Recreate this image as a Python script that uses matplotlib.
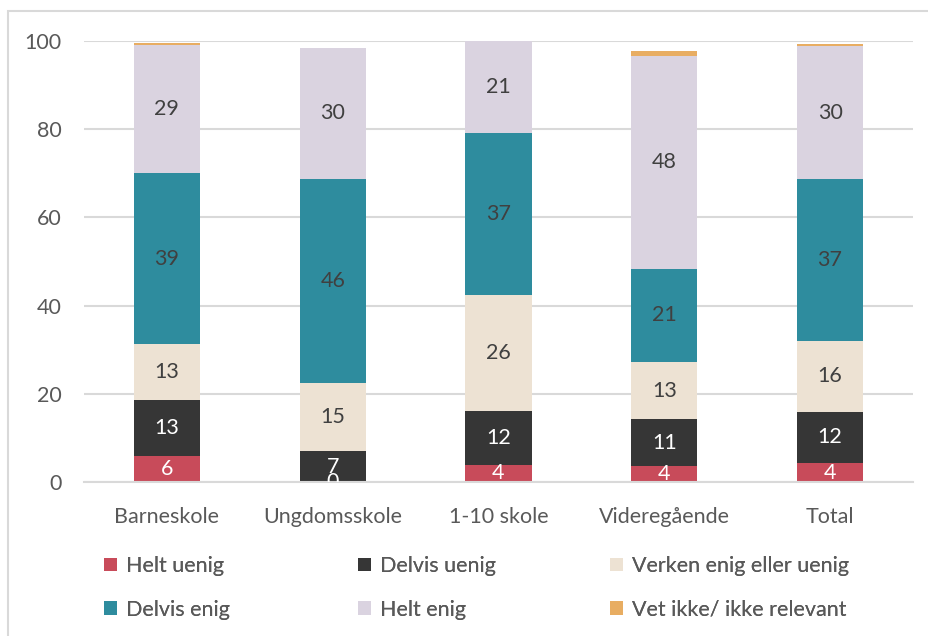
#!/usr/bin/env python3
"""Stacked agreement shares by school level."""

import matplotlib

matplotlib.use("Agg")

import matplotlib.pyplot as plt
from matplotlib import patches
import numpy as np


SCHOOLS = ["Barneskole", "Ungdomsskole", "1-10 skole", "Videregående", "Total"]
ANSWERS = [
    "Helt uenig",
    "Delvis uenig",
    "Verken enig eller uenig",
    "Delvis enig",
    "Helt enig",
    "Vet ikke/ ikke relevant",
]

# Percent per answer, one entry per school level
HELT_UENIG = [5.8, 0.0, 3.9, 3.6, 4.3]
DELVIS_UENIG = [12.9, 7.0, 12.1, 10.6, 11.6]
VERKEN = [12.6, 15.4, 26.3, 13.0, 16.1]
DELVIS_ENIG = [38.7, 46.4, 36.8, 21.2, 36.6]
HELT_ENIG = [29.1, 29.6, 20.9, 48.2, 30.3]
VET_IKKE = [0.5, 0.0, 0.0, 1.1, 0.4]

COLORS = ["#C84B5A", "#363636", "#EDE2D3", "#2E8C9E", "#DAD3E0", "#E8AD62"]
LABEL_COLORS = ["white", "white", "#404040", "#404040", "#404040", None]
TEXT = "#595959"
GRID = "#D9D9D9"
FS = 15.5

plt.rcParams.update({"font.family": ["Lato", "DejaVu Sans"], "font.size": FS})


def main() -> None:
    fig = plt.figure(figsize=(9.29, 6.36), dpi=100)
    fig.patch.set_facecolor("white")
    ax = fig.add_axes([84 / 929, 1 - 482 / 636, 829 / 929, 441 / 636])

    # chart-area frame, open towards the right and bottom edges
    fig.add_artist(
        patches.Rectangle(
            (8 / 929, -0.1), 1.1, 1 - 11 / 636 + 0.1,
            transform=fig.transFigure, fill=False, edgecolor=GRID, linewidth=1.5,
        )
    )

    series = [HELT_UENIG, DELVIS_UENIG, VERKEN, DELVIS_ENIG, HELT_ENIG, VET_IKKE]
    x = np.arange(len(SCHOOLS))
    bottom = np.zeros(len(SCHOOLS))
    handles = []
    for values, name, color, label_color in zip(series, ANSWERS, COLORS, LABEL_COLORS):
        values = np.array(values)
        bars = ax.bar(x, values, 0.4, bottom=bottom, color=color, label=name, zorder=2)
        handles.append(bars)
        if label_color is not None:
            for xi, b, v in zip(x, bottom, values):
                if v == 0 and name != "Helt uenig":
                    continue
                ax.text(xi, b + v / 2, f"{v:.0f}", ha="center", va="center",
                        color=label_color, fontsize=FS, zorder=3, clip_on=True)
        bottom += values

    ax.set_xlim(-0.5, len(SCHOOLS) - 0.5)
    ax.set_ylim(0, 100)
    ax.set_yticks(range(0, 101, 20))
    ax.set_xticks(x, SCHOOLS)
    ax.yaxis.grid(True, color=GRID, linewidth=1.5, zorder=0)
    ax.set_axisbelow(True)
    for side in ("top", "right", "left"):
        ax.spines[side].set_visible(False)
    ax.spines["bottom"].set_color(GRID)
    ax.spines["bottom"].set_linewidth(1.5)
    ax.tick_params(axis="both", length=0, colors=TEXT, labelsize=FS)
    ax.tick_params(axis="y", pad=16)
    ax.tick_params(axis="x", pad=18)

    # legend laid out as three columns of two rows
    columns = [(0, 3), (1, 4), (2, 5)]
    col_x = [104 / 929, 358 / 929, 610 / 929]
    for (i, j), cx in zip(columns, col_x):
        leg = fig.legend(
            [handles[i], handles[j]], [ANSWERS[i], ANSWERS[j]],
            loc="upper left", bbox_to_anchor=(cx, 1 - 556 / 636),
            frameon=False, handlelength=0.6, handleheight=0.6,
            handletextpad=0.4, labelspacing=1.1, borderaxespad=0, borderpad=0,
            fontsize=FS, labelcolor=TEXT,
        )
        fig.add_artist(leg)

    fig.savefig("out.png", dpi=100)
    plt.close(fig)


if __name__ == "__main__":
    main()
